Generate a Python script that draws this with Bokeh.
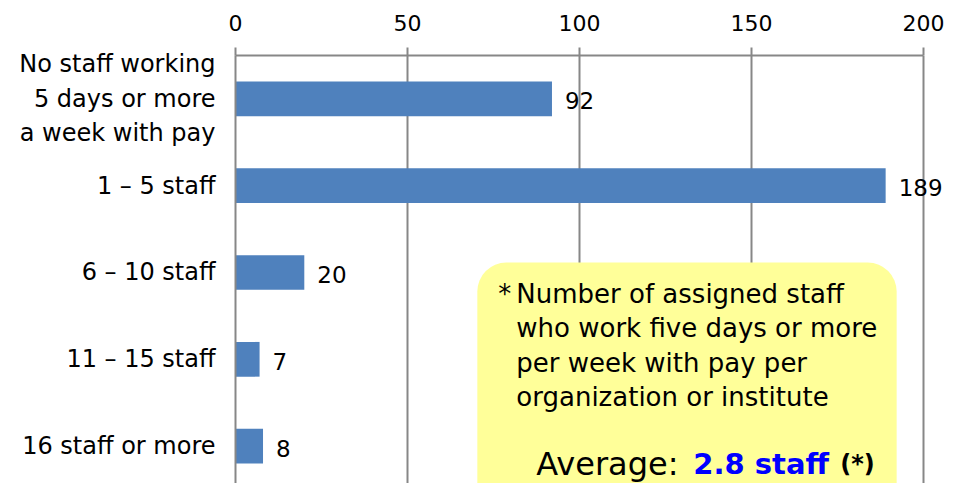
from bokeh.plotting import figure
from bokeh.models import ColumnDataSource, Range1d, BoxAnnotation, Label, LabelSet, FixedTicker
from bokeh.core.properties import value
from bokeh.embed import file_html
from bokeh.resources import INLINE

categories = [
    "No staff working\n5 days or more\na week with pay",
    "1 \u2013 5 staff",
    "6 \u2013 10 staff",
    "11 \u2013 15 staff",
    "16 staff or more",
]
counts = [92, 189, 20, 7, 8]
x_ticks = [0, 50, 100, 150, 200]

note_lines = [
    "Number of assigned staff",
    "who work five days or more",
    "per week with pay per",
    "organization or institute",
]
avg_prefix = "Average: "
avg_value = "2.8 staff"
avg_suffix = "(*)"

FONT = "DejaVu Sans"
GRAY = "#878787"

n = len(categories)
ypos = [n - 0.5 - i for i in range(n)]  # first category at the top

source = ColumnDataSource(data=dict(y=ypos, count=counts,
                                    label=[str(c) for c in counts]))

p = figure(
    width=945, height=483,
    x_range=Range1d(0, 206.4),
    y_range=Range1d(0.069, n),
    x_axis_location="above",
    output_backend="svg", toolbar_location=None,
    min_border_left=235, min_border_right=0, min_border_top=55, min_border_bottom=0,
)
p.outline_line_color = None
p.background_fill_color = "white"

p.hbar(y="y", right="count", left=0, height=0.4, source=source,
       fill_color="#4F81BD", line_color=None)

labels = LabelSet(x="count", y="y", text="label", source=source,
                  x_offset=13, y_offset=-2, text_baseline="middle",
                  text_font=value(FONT), text_font_size=value("23px"), text_color="black")
p.add_layout(labels)

# top value axis
xa = p.xaxis[0]
xa.ticker = FixedTicker(ticks=x_ticks)
xa.bounds = (0, 200)
xa.major_tick_out = 8
xa.major_tick_in = 0
xa.minor_tick_line_color = None
xa.axis_line_color = GRAY
xa.axis_line_width = 2
xa.major_tick_line_color = GRAY
xa.major_tick_line_width = 2
xa.major_label_text_font = FONT
xa.major_label_text_font_size = "22px"
xa.major_label_text_color = "black"
xa.major_label_standoff = 17

# category axis
ya = p.yaxis[0]
ya.ticker = FixedTicker(ticks=ypos)
ya.major_label_overrides = {float(y): c for y, c in zip(ypos, categories)}
ya.major_tick_out = 0
ya.major_tick_in = 0
ya.minor_tick_line_color = None
ya.axis_line_color = GRAY
ya.axis_line_width = 2
ya.major_label_text_font = FONT
ya.major_label_text_font_size = "24px"
ya.major_label_text_color = "black"
ya.major_label_text_line_height = 1.23
ya.major_label_standoff = 20

p.xgrid.grid_line_color = GRAY
p.xgrid.grid_line_width = 2
p.xgrid.ticker = FixedTicker(ticks=x_ticks)
p.xgrid.bounds = (0, 200)
p.ygrid.grid_line_color = None

# note box
box_left = 70.3
box = BoxAnnotation(left=box_left, right=192.2, top=2.615, bottom=-0.6,
                    fill_color="#FFFF99", fill_alpha=1.0, line_color=None,
                    border_radius=29)
p.add_layout(box)

p.add_layout(Label(x=box_left, y=2.254, x_offset=21, text="*", text_font=FONT,
                   text_font_size="26px", text_color="black", text_baseline="alphabetic"))
line_y = [2.254, 1.857, 1.459, 1.062]
for txt, yy in zip(note_lines, line_y):
    p.add_layout(Label(x=box_left, y=yy, x_offset=39, text=txt, text_font=FONT,
                       text_font_size="26px", text_color="black", text_baseline="alphabetic"))

avg_y = 0.29
p.add_layout(Label(x=box_left, y=avg_y, x_offset=59, text=avg_prefix, text_font=FONT,
                   text_font_size="32px", text_color="black", text_baseline="alphabetic"))
p.add_layout(Label(x=box_left, y=avg_y, x_offset=216, text=avg_value, text_font=FONT,
                   text_font_size="29px", text_font_style="bold", text_color="#0000FF",
                   text_baseline="alphabetic"))
p.add_layout(Label(x=box_left, y=avg_y, x_offset=363, text=avg_suffix, text_font=FONT,
                   text_font_size="24px", text_font_style="bold", text_color="black",
                   text_baseline="alphabetic"))

open("out.html", "w").write(file_html(p, INLINE))
